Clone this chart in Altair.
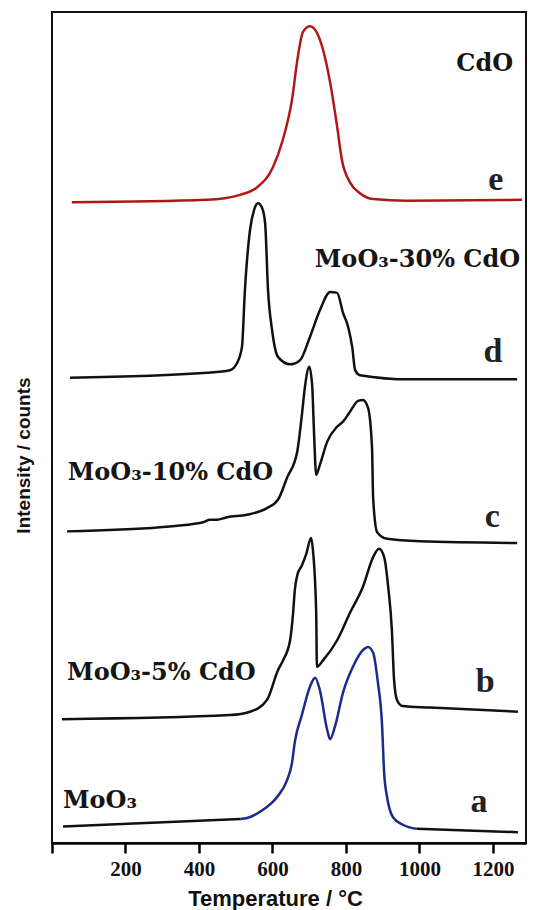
import altair as alt
import pandas as pd

# ---- data (temperature in °C, stacked intensity in arbitrary units) ----
e_temp = [54, 422, 470, 512, 558, 601, 628, 653, 669, 683, 702, 721, 738, 757, 776, 789, 811, 838, 874, 966, 1279]
e_int = [77.1, 77.4, 77.6, 78.0, 78.9, 81.3, 84.6, 89.4, 94.6, 97.6, 98.3, 97.5, 95.4, 91.5, 86.2, 82.2, 79.5, 78.2, 77.5, 77.3, 77.4]

d_temp = [49, 422, 484, 504, 517, 525, 539, 550, 561, 572, 580, 588, 599, 615, 648, 675, 702, 729, 757, 776, 792, 806, 817, 825, 838, 974, 1266]
d_int = [56.0, 56.6, 56.9, 57.8, 59.7, 66.5, 73.8, 76.2, 77.0, 76.4, 74.6, 66.5, 61.7, 58.5, 57.6, 58.1, 60.9, 64.1, 66.3, 66.2, 63.8, 62.1, 59.7, 56.9, 56.3, 55.8, 55.8]

c_temp = [41, 294, 384, 411, 430, 449, 476, 531, 585, 615, 640, 667, 680, 689, 700, 708, 713, 719, 729, 749, 776, 792, 811, 833, 846, 860, 871, 874, 885, 912, 1002, 1266]
c_int = [37.5, 38.0, 38.4, 38.6, 38.9, 38.9, 39.2, 39.5, 40.3, 41.3, 44.0, 47.0, 51.5, 55.1, 57.3, 55.1, 49.5, 44.3, 45.5, 48.3, 50.1, 50.7, 51.9, 53.2, 53.3, 52.4, 47.5, 41.5, 37.4, 36.6, 36.3, 36.1]

b_temp = [27, 484, 539, 585, 615, 629, 648, 656, 661, 668, 680, 692, 705, 710, 719, 721, 738, 776, 811, 846, 874, 890, 904, 915, 925, 931, 939, 953, 1029, 1268]
b_int = [14.9, 15.4, 15.8, 17.2, 20.8, 22.0, 24.4, 27.6, 30.5, 32.3, 33.4, 34.8, 36.7, 35.3, 27.7, 21.2, 22.0, 24.4, 27.7, 30.8, 34.4, 35.4, 34.4, 30.8, 25.6, 19.6, 17.2, 16.5, 16.3, 15.8]

a_temp = [30, 512, 531, 574, 612, 640, 653, 661, 680, 702, 716, 729, 749, 757, 770, 792, 819, 846, 860, 874, 887, 898, 904, 912, 928, 955, 993, 1268]
a_int = [2.0, 2.9, 3.0, 4.0, 5.5, 7.6, 9.6, 12.2, 15.4, 18.8, 19.9, 18.4, 13.6, 12.5, 14.0, 18.1, 21.2, 23.2, 23.6, 22.9, 19.3, 14.4, 8.4, 5.5, 3.1, 2.2, 1.7, 1.3]

x_ticks = [0, 200, 400, 600, 800, 1000, 1200]

# ---- table ----
rows = []
def add(seg, colour, temps, ints):
    for t, v in zip(temps, ints):
        rows.append({"T": t, "I": v, "seg": seg, "col": colour})

add("e", "red", e_temp, e_int)
add("d", "black", d_temp, d_int)
add("c", "black", c_temp, c_int)
add("b", "black", b_temp, b_int)
a_pts = list(zip(a_temp, a_int))
add("a_left", "black", [t for t, v in a_pts if t <= 512], [v for t, v in a_pts if t <= 512])
add("a_mid", "blue", [t for t, v in a_pts if 512 <= t <= 993], [v for t, v in a_pts if 512 <= t <= 993])
add("a_right", "black", [t for t, v in a_pts if t >= 993], [v for t, v in a_pts if t >= 993])
df = pd.DataFrame(rows)

x_enc = alt.X(
    "T:Q",
    scale=alt.Scale(domain=[0, 1290], nice=False),
    axis=alt.Axis(
        values=x_ticks,
        labelExpr="datum.value == 0 ? '' : format(datum.value, 'd')",
        title="Temperature / °C",
        grid=False,
        domainColor="black", domainWidth=2.5,
        tickColor="black", tickWidth=2.5, tickSize=10,
        labelFont="Liberation Serif", labelFontWeight="bold", labelFontSize=21,
        labelColor="#111", labelPadding=5,
        titleFont="Liberation Sans", titleFontSize=22, titleFontWeight="bold",
        titleColor="#111", titleX=223, titleY=62, titleAlign="center",
        titleBaseline="alphabetic",
    ),
)
y_enc = alt.Y(
    "I:Q",
    scale=alt.Scale(domain=[0, 100], nice=False),
    axis=alt.Axis(
        title="Intensity / counts", labels=False, ticks=False, domain=False, grid=False,
        titleX=-23, titleY=443, titleAngle=270, titleAlign="center",
        titleBaseline="alphabetic",
        titleFont="Liberation Sans", titleFontSize=19, titleFontWeight="bold",
        titleColor="#111",
    ),
)

lines = alt.Chart(df).mark_line(strokeWidth=2.5, interpolate="monotone").encode(
    x=x_enc,
    y=y_enc,
    color=alt.Color("col:N", scale=alt.Scale(domain=["black", "red", "blue"],
                                              range=["#111111", "#b01818", "#1c2a8e"]), legend=None),
    detail="seg:N",
)

# labels
lab_left = pd.DataFrame({
    "T": [43, 41, 30],
    "I": [43.7, 19.6, 4.2],
    "txt": ["MoO₃-10% CdO", "MoO₃-5% CdO", "MoO₃"],
})
lab_right = pd.DataFrame({
    "T": [1274, 1255],
    "I": [69.3, 92.9],
    "txt": ["MoO₃-30% CdO", "CdO"],
})
letters = pd.DataFrame({
    "T": [1208, 1200, 1198, 1179, 1162],
    "I": [78.6, 57.9, 38.0, 18.2, 3.7],
    "txt": ["e", "d", "c", "b", "a"],
})

t_left = alt.Chart(lab_left).mark_text(
    align="left", baseline="alphabetic", font="DejaVu Serif", fontWeight="bold",
    fontSize=24, color="#151515"
).encode(x="T:Q", y="I:Q", text="txt:N")
t_right = alt.Chart(lab_right).mark_text(
    align="right", baseline="alphabetic", font="DejaVu Serif", fontWeight="bold",
    fontSize=24, color="#151515"
).encode(x="T:Q", y="I:Q", text="txt:N")
t_let = alt.Chart(letters).mark_text(
    align="center", baseline="alphabetic", font="Liberation Serif", fontWeight="bold",
    fontSize=34, color="#222"
).encode(x="T:Q", y="I:Q", text="txt:N")

chart = alt.layer(lines, t_left, t_right, t_let).properties(
    width=474, height=831,
    autosize=alt.AutoSizeParams(type="none"),
    padding={"left": 52, "top": 12, "right": 18, "bottom": 67},
    background="white",
).configure_view(stroke="#111", strokeWidth=2)

chart.save("out.html", embed_options={"renderer": "svg", "actions": False})
